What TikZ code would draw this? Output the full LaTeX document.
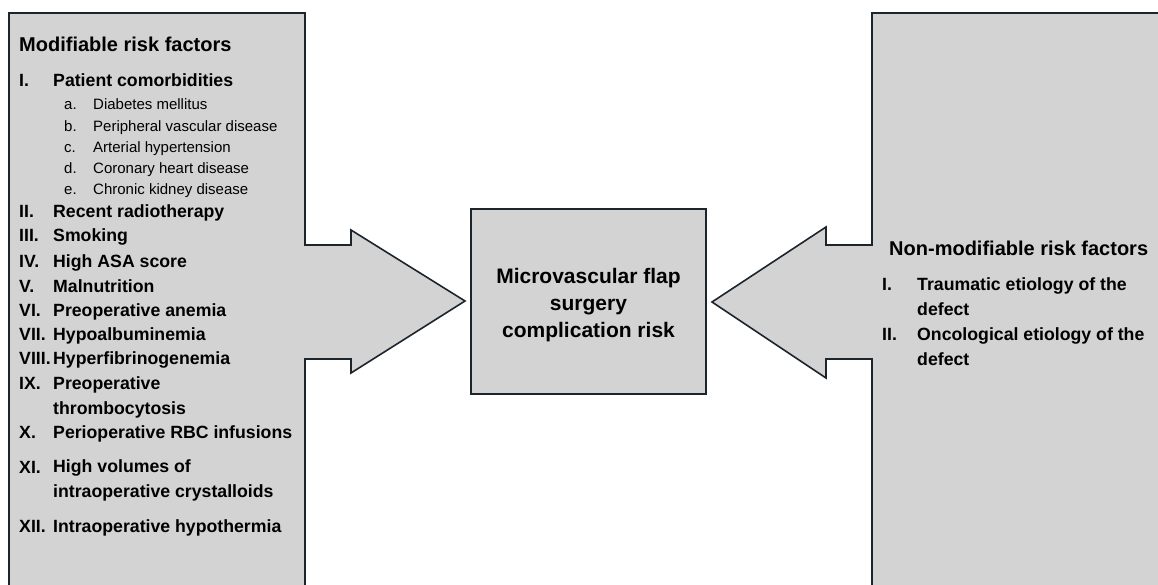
\documentclass[tikz,border=0pt]{standalone}
\usepackage{fontspec}
\setmainfont{Liberation Sans}

\definecolor{panelgrey}{RGB}{211,211,211}
\definecolor{edgedark}{RGB}{28,36,44}

\tikzset{
	panel/.style={fill=panelgrey, draw=edgedark, line width=1.6pt, line join=miter},
	centrebox/.style={panel, minimum width=235pt, minimum height=185pt, inner sep=0pt},
	centretext/.style={anchor=base, inner sep=0pt, align=center, font=\bfseries\fontsize{21}{27}\selectfont},
	heading/.style={anchor=base west, inner sep=0pt, font=\bfseries\fontsize{20}{25}\selectfont},
	item/.style={anchor=base west, inner sep=0pt, align=left, font=\bfseries\fontsize{17.7}{24.5}\selectfont},
	subitem/.style={anchor=base west, inner sep=0pt, font=\fontsize{15}{21}\selectfont},
}

\begin{document}
\begin{tikzpicture}[x=1pt,y=-1pt]
	\clip (0,0) rectangle (1158,585);

	% the two side blocks, each with an arrow pointing to the middle
	\draw[panel] (9,600) -- (9,13) -- (305,13) -- (305,245) -- (351,245) -- (351,230)
		-- (465,301) -- (351,373) -- (351,359) -- (305,359) -- (305,600) -- cycle;
	\draw[panel] (1170,13) -- (872,13) -- (872,245) -- (826,245) -- (826,227)
		-- (712,302) -- (826,378) -- (826,359) -- (872,359) -- (872,600) -- (1170,600) -- cycle;

	\node[centrebox] (risk) at (588.5,301.5) {};
	% base of a multi-line node sits on its last line
	\node[centretext] (risktext) at (588.5,337) {Microvascular flap\\surgery\\complication risk};

	% modifiable side: numeral baseline / numeral / text / baseline of the text's last line
	\node[heading] (modhead) at (19,52) {Modifiable risk factors};
	\foreach \y/\num/\txt/\ty [count=\i] in {87/I./Patient comorbidities/87, 218/II./Recent radiotherapy/218,
			242/III./Smoking/242, 267/IV./High ASA score/267, 292/V./Malnutrition/292,
			316/VI./Preoperative anemia/316, 340/VII./Hypoalbuminemia/340, 364/VIII./Hyperfibrinogenemia/364,
			389/IX./{Preoperative\\thrombocytosis}/414, 438/X./Perioperative RBC infusions/438,
			473/XI./{High volumes of\\intraoperative crystalloids}/497, 532/XII./Intraoperative hypothermia/532}
		{
			\node[item] (modnum\i) at (19,\y) {\num};
			\node[item] (mod\i) at (53,\ty) {\txt};
		}
	\foreach \y/\lbl/\txt [count=\i] in {110/a./Diabetes mellitus, 132/b./Peripheral vascular disease,
			153/c./Arterial hypertension, 174/d./Coronary heart disease, 195/e./Chronic kidney disease}
		{
			\node[subitem] (sublbl\i) at (64,\y) {\lbl};
			\node[subitem] (sub\i) at (93,\y) {\txt};
		}

	% non-modifiable side
	\node[heading] (nonhead) at (889,255) {Non-modifiable risk factors};
	\node[item] (nonnum1) at (882,290) {I.};
	\node[item] (non1) at (917,315) {Traumatic etiology of the\\defect};
	\node[item] (nonnum2) at (882,340) {II.};
	\node[item] (non2) at (917,365) {Oncological etiology of the\\defect};
\end{tikzpicture}
\end{document}
